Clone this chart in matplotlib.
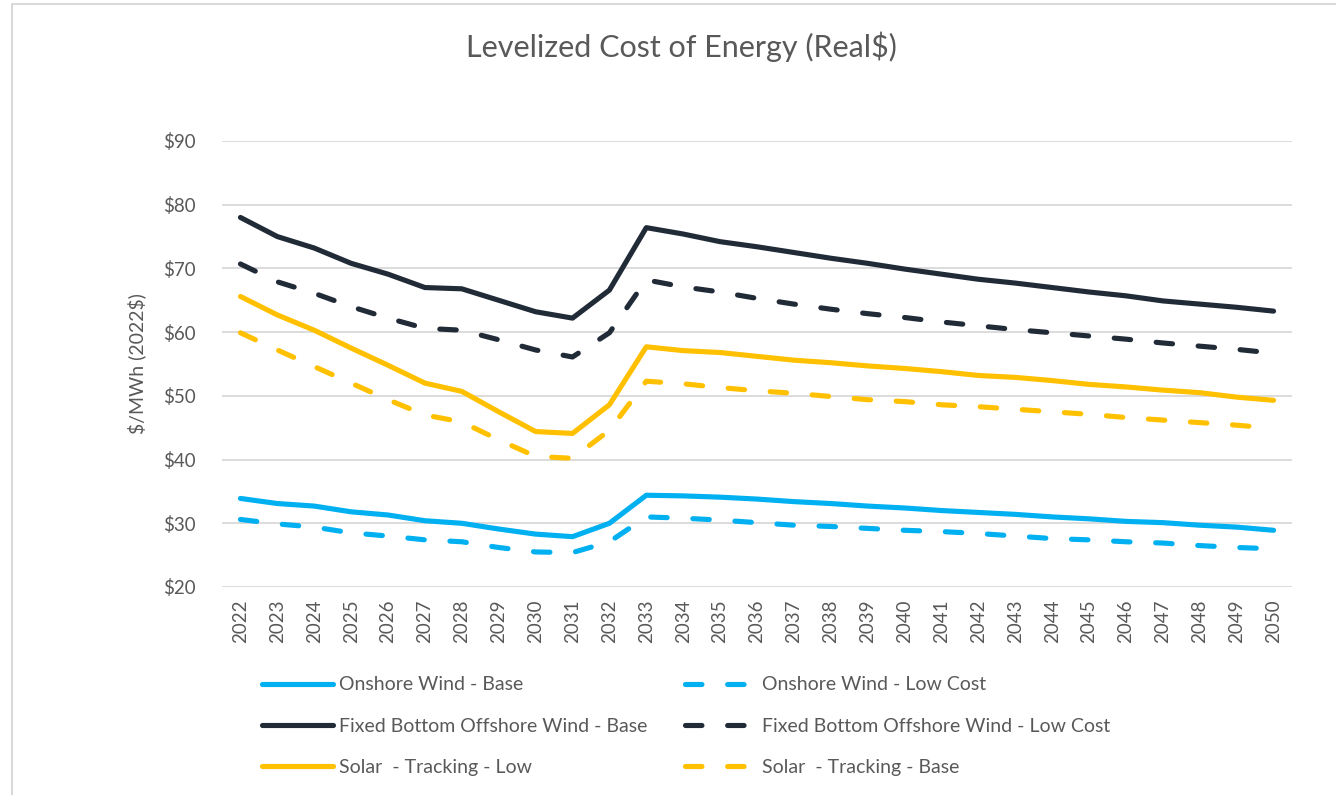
import matplotlib
matplotlib.use("Agg")
import matplotlib.pyplot as plt
from matplotlib.patches import Rectangle

years = [str(y) for y in range(2022, 2051)]

onshore_base = [33.9, 33.1, 32.7, 31.8, 31.3, 30.4, 30.0, 29.1, 28.3, 27.9, 30.0, 34.4, 34.3,
                34.1, 33.8, 33.4, 33.1, 32.7, 32.4, 32.0, 31.7, 31.4, 31.0, 30.7, 30.3, 30.1,
                29.7, 29.4, 28.9]
onshore_low = [30.6, 29.9, 29.4, 28.5, 28.0, 27.4, 27.1, 26.2, 25.5, 25.4, 27.1, 31.0, 30.8,
               30.5, 30.1, 29.7, 29.5, 29.2, 28.9, 28.7, 28.4, 28.0, 27.6, 27.4, 27.1, 26.9,
               26.5, 26.2, 26.0]
offshore_base = [78.0, 75.0, 73.2, 70.8, 69.1, 67.0, 66.8, 65.0, 63.2, 62.2, 66.6, 76.4, 75.4,
                 74.2, 73.4, 72.5, 71.6, 70.8, 69.9, 69.1, 68.3, 67.7, 67.0, 66.3, 65.7, 64.9,
                 64.4, 63.9, 63.3]
offshore_low = [70.7, 67.9, 66.1, 64.0, 62.2, 60.6, 60.3, 58.8, 57.2, 56.1, 59.9, 68.2, 67.1,
                66.3, 65.3, 64.4, 63.6, 62.9, 62.3, 61.6, 61.0, 60.4, 59.9, 59.4, 58.9, 58.3,
                57.8, 57.3, 56.7]
solar_low = [65.6, 62.7, 60.3, 57.5, 54.8, 52.0, 50.7, 47.5, 44.4, 44.1, 48.6, 57.7, 57.1,
             56.8, 56.2, 55.6, 55.2, 54.7, 54.3, 53.8, 53.2, 52.9, 52.4, 51.8, 51.4, 50.9,
             50.5, 49.8, 49.3]
solar_base = [59.9, 57.2, 54.6, 52.0, 49.4, 47.0, 45.9, 43.1, 40.5, 40.2, 44.6, 52.3, 51.9,
              51.3, 50.8, 50.4, 49.9, 49.4, 49.1, 48.6, 48.3, 47.9, 47.5, 47.1, 46.6, 46.2,
              45.8, 45.4, 44.9]

y_ticks = [20, 30, 40, 50, 60, 70, 80, 90]

BLUE = "#00B0F0"
NAVY = "#212B38"
GOLD = "#FFC000"
TEXT = "#595959"

plt.rcParams["font.family"] = ["Lato", "DejaVu Sans"]

fig = plt.figure(figsize=(13.36, 7.95), dpi=100)
ax = fig.add_axes([222 / 1336, 1 - 587 / 795, (1292 - 222) / 1336, (587 - 141) / 795])

# chart area border (only top/left visible in the original crop)
fig.patches.append(Rectangle((12 / 1336, -0.05), 1.1, 1.0 - 4 / 795 + 0.05,
                             transform=fig.transFigure, fill=False,
                             edgecolor="#D9D9D9", linewidth=1.5))

x = list(range(len(years)))
dash = (0, (3.2, 5.0))
lw = 3.7
series = [
    ("Onshore Wind - Base", onshore_base, BLUE, "-"),
    ("Fixed Bottom Offshore Wind - Base", offshore_base, NAVY, "-"),
    ("Solar  - Tracking - Low", solar_low, GOLD, "-"),
    ("Onshore Wind - Low Cost", onshore_low, BLUE, dash),
    ("Fixed Bottom Offshore Wind - Low Cost", offshore_low, NAVY, dash),
    ("Solar  - Tracking - Base", solar_base, GOLD, dash),
]
handles = []
for label, vals, color, ls in series:
    h, = ax.plot(x, vals, color=color, linestyle=ls, linewidth=lw, label=label,
                 solid_capstyle="round", dash_capstyle="round", solid_joinstyle="round")
    handles.append(h)

ax.set_xlim(-0.5, len(years) - 0.5)
ax.set_ylim(20, 90)
ax.set_xticks(x)
ax.set_xticklabels(years, rotation=90, fontsize=13.5, color=TEXT)
ax.set_yticks(y_ticks)
ax.set_yticklabels([f"${v}" for v in y_ticks], fontsize=13.5, color=TEXT)
ax.tick_params(axis="both", length=0)
ax.tick_params(axis="y", pad=19)
ax.tick_params(axis="x", pad=9)
ax.grid(axis="y", color="#D9D9D9", linewidth=1.3)
ax.set_axisbelow(True)
for s in ax.spines.values():
    s.set_visible(False)

ax.set_ylabel(r"\$/MWh (2022\$)", fontsize=14, color=TEXT, labelpad=12)

fig.text(681 / 1336, 1 - 47 / 795, "Levelized Cost of Energy (Real$)", ha="center",
         va="center", fontsize=22, color=TEXT)

fig.legend(handles=handles, ncol=2, loc="upper left",
           bbox_to_anchor=(244 / 1336, 1 - 659 / 795), frameon=False,
           fontsize=14, handlelength=3.7, labelspacing=1.24, columnspacing=1.9,
           labelcolor=TEXT, handletextpad=0.3)

fig.savefig("out.png", dpi=100)
